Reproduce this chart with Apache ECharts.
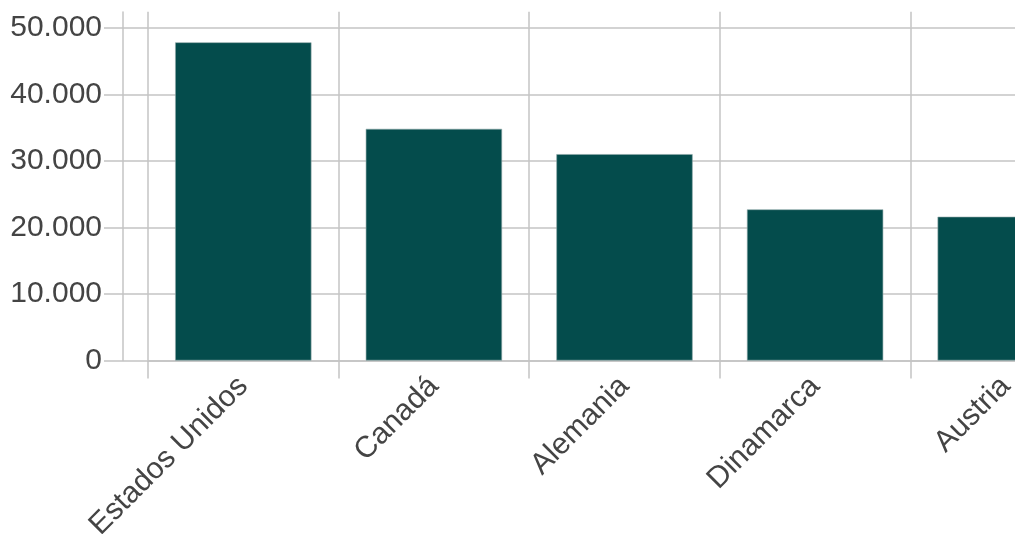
<!DOCTYPE html>
<html>
<head>
<meta charset="utf-8">
<script src="https://cdn.jsdelivr.net/npm/echarts@6/dist/echarts.min.js"></script>
<style>
html,body{margin:0;padding:0;background:#fff;overflow:hidden;}
#chart{width:1101px;height:534px;}
</style>
</head>
<body>
<div id="chart"></div>
<script>
const categories = ['Estados Unidos', 'Canadá', 'Alemania', 'Dinamarca', 'Austria'];
const values = [47800, 34800, 31000, 22700, 21600];
const yTicks = { min: 0, max: 50000, interval: 10000 };

const gridColor = '#c4c4c4';
const textColor = '#444444';
const fontFamily = '"Liberation Sans", Arial, sans-serif';
const fmt = v => String(v).replace(/\B(?=(\d{3})+(?!\d))/g, '.');

const chart = echarts.init(document.getElementById('chart'));
chart.setOption({
  animation: false,
  textStyle: { fontFamily: fontFamily },
  grid: [
    { left: 148, top: 27.7, right: 0, bottom: 173.5, containLabel: false, outerBoundsMode: 'none' },
    { left: 122.5, top: 12, width: 25.5, bottom: 173.5, containLabel: false, outerBoundsMode: 'none' }
  ],
  xAxis: [
    {
      type: 'category', gridIndex: 0, position: 'bottom', data: categories,
      boundaryGap: true,
      axisLine: { show: true, lineStyle: { color: gridColor, width: 1.5 } },
      axisTick: { show: true, length: 18, lineStyle: { color: gridColor, width: 1.5 } },
      splitLine: { show: true, lineStyle: { color: gridColor, width: 1.5 } },
      axisLabel: { rotate: 45, fontSize: 30, color: textColor, margin: 21, fontFamily: fontFamily }
    },
    {
      type: 'category', gridIndex: 0, position: 'top', data: categories,
      boundaryGap: true,
      axisLine: { show: false },
      axisTick: { show: true, length: 16, lineStyle: { color: gridColor, width: 1.5 } },
      splitLine: { show: false },
      axisLabel: { show: false }
    },
    {
      type: 'value', gridIndex: 1, show: false
    }
  ],
  yAxis: [
    {
      type: 'value', gridIndex: 0, min: yTicks.min, max: yTicks.max, interval: yTicks.interval,
      axisLine: { show: false },
      axisTick: { show: true, length: 44, lineStyle: { color: gridColor, width: 1.5 } },
      splitLine: { show: true, lineStyle: { color: gridColor, width: 1.5 } },
      axisLabel: { fontSize: 30, color: textColor, margin: 46, formatter: fmt, fontFamily: fontFamily }
    },
    {
      type: 'value', gridIndex: 1, min: 0, max: 1,
      axisLine: { show: true, lineStyle: { color: gridColor, width: 1.5 } },
      axisTick: { show: false },
      splitLine: { show: false },
      axisLabel: { show: false }
    }
  ],
  series: [
    {
      type: 'bar', xAxisIndex: 0, yAxisIndex: 0, data: values,
      barWidth: '71.5%',
      itemStyle: { color: '#044c4c', borderColor: '#8fa8a8', borderWidth: 0.6 }
    }
  ]
});
</script>
</body>
</html>
